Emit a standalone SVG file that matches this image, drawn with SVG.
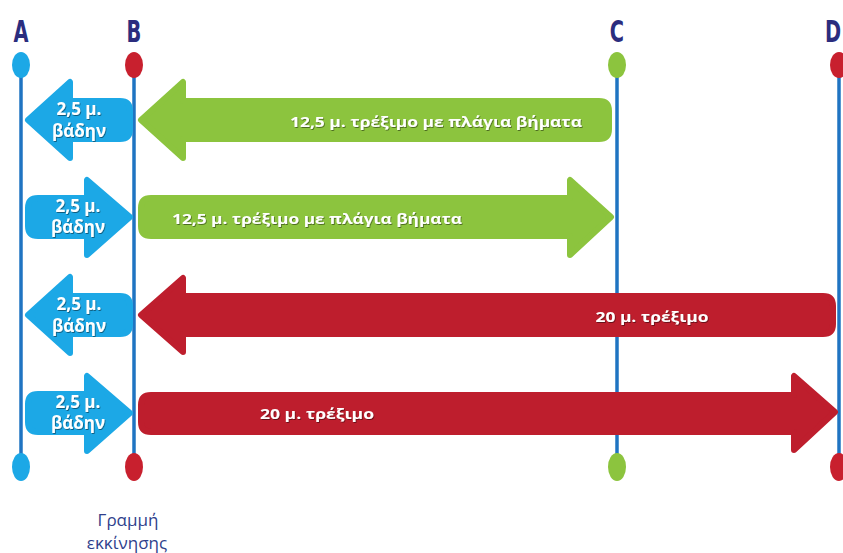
<svg xmlns="http://www.w3.org/2000/svg" width="843" height="553" viewBox="0 0 843 553">
<defs>
<style>
.ln{stroke:#1f74c2;stroke-width:3.5;fill:none}
.arr{stroke-width:6;stroke-linejoin:round}
.bl{fill:#1ca8e6;stroke:#1ca8e6}
.gr{fill:#8cc43e;stroke:#8cc43e}
.rd{fill:#be1e2d;stroke:#be1e2d}
.t{font-family:"Open Sans","Noto Sans",sans-serif;font-weight:bold;fill:#fff;filter:url(#sh)}
.bt{font-size:17px;text-anchor:middle}
.mt{font-size:15px;text-anchor:middle}
.lt{font-family:"DejaVu Sans Condensed","DejaVu Sans",sans-serif;font-weight:bold;font-size:30px;fill:#2b2d7e;text-anchor:middle}
.cap{font-family:"Open Sans","Noto Sans",sans-serif;font-size:17px;fill:#2f3f8c;text-anchor:middle}
</style>
<filter id="sh" x="-10%" y="-30%" width="120%" height="160%">
<feDropShadow dx="0.8" dy="1" stdDeviation="0.7" flood-color="#000" flood-opacity="0.45"/>
</filter>
</defs>
<rect width="843" height="553" fill="#fff"/>

<g id="connectors">
<line class="ln" x1="21" y1="65" x2="21" y2="467"/>
<line class="ln" x1="134" y1="65" x2="134" y2="467"/>
<line class="ln" x1="617" y1="65" x2="617" y2="467"/>
<line class="ln" x1="839" y1="65" x2="839" y2="467"/>
</g>

<g id="markerA">
<text class="lt" transform="translate(21,42) scale(0.72,1)">A</text>
<ellipse cx="21" cy="65" rx="9" ry="13" fill="#1ca8e6"/>
<ellipse cx="21" cy="467" rx="9" ry="14" fill="#1ca8e6"/>
</g>
<g id="markerB">
<text class="lt" transform="translate(134,42) scale(0.72,1)">B</text>
<ellipse cx="134" cy="65" rx="9" ry="13" fill="#c8202e"/>
<ellipse cx="134" cy="467" rx="9" ry="14" fill="#c8202e"/>
</g>
<g id="markerC">
<text class="lt" transform="translate(617,42) scale(0.72,1)">C</text>
<ellipse cx="617" cy="65" rx="9" ry="13" fill="#8cc43e"/>
<ellipse cx="617" cy="467" rx="9" ry="14" fill="#8cc43e"/>
</g>
<g id="markerD">
<text class="lt" transform="translate(833,42) scale(0.72,1)">D</text>
<ellipse cx="839" cy="65" rx="9" ry="13" fill="#c8202e"/>
<ellipse cx="839" cy="467" rx="9" ry="14" fill="#c8202e"/>
</g>

<!-- Row 1 -->
<g id="walk1">
<path class="arr bl" d="M28,120 L70,82 L70,101 L120,101 Q130,101 130,111 L130,129 Q130,139 120,139 L70,139 L70,158 Z"/>
<text class="t bt" x="79" y="115">2,5 μ.</text>
<text class="t bt" x="79" y="137">βάδην</text>
</g>
<g id="run1">
<path class="arr gr" d="M141,120 L183,82 L183,101 L599,101 Q609,101 609,111 L609,129 Q609,139 599,139 L183,139 L183,158 Z"/>
<text class="t mt" x="436" y="127" textLength="292" lengthAdjust="spacingAndGlyphs">12,5 μ. τρέξιμο με πλάγια βήματα</text>
</g>

<!-- Row 2 -->
<g id="walk2">
<path class="arr bl" d="M130,217 L87,180 L87,198 L38,198 Q28,198 28,208 L28,226 Q28,236 38,236 L87,236 L87,255 Z"/>
<text class="t bt" x="78" y="212">2,5 μ.</text>
<text class="t bt" x="78" y="233">βάδην</text>
</g>
<g id="run2">
<path class="arr gr" d="M611,217 L570,180 L570,198 L151,198 Q141,198 141,208 L141,226 Q141,236 151,236 L570,236 L570,255 Z"/>
<text class="t mt" x="317" y="224" textLength="290" lengthAdjust="spacingAndGlyphs">12,5 μ. τρέξιμο με πλάγια βήματα</text>
</g>

<!-- Row 3 -->
<g id="walk3">
<path class="arr bl" d="M28,315 L70,277 L70,296 L120,296 Q130,296 130,306 L130,324 Q130,334 120,334 L70,334 L70,353 Z"/>
<text class="t bt" x="79" y="310">2,5 μ.</text>
<text class="t bt" x="79" y="332">βάδην</text>
</g>
<g id="run3">
<path class="arr rd" d="M141,315 L183,278 L183,296 L823,296 Q833,296 833,306 L833,324 Q833,334 823,334 L183,334 L183,352 Z"/>
<text class="t mt" x="652" y="322" textLength="113" lengthAdjust="spacingAndGlyphs">20 μ. τρέξιμο</text>
</g>

<!-- Row 4 -->
<g id="walk4">
<path class="arr bl" d="M130,413 L87,376 L87,394 L38,394 Q28,394 28,404 L28,422 Q28,432 38,432 L87,432 L87,451 Z"/>
<text class="t bt" x="78" y="408">2,5 μ.</text>
<text class="t bt" x="78" y="429">βάδην</text>
</g>
<g id="run4">
<path class="arr rd" d="M835,412 L794,376 L794,395 L151,395 Q141,395 141,405 L141,422 Q141,432 151,432 L794,432 L794,450 Z"/>
<text class="t mt" x="317" y="419" textLength="114" lengthAdjust="spacingAndGlyphs">20 μ. τρέξιμο</text>
</g>

<g id="startLabel">
<text class="cap" x="128" y="526">Γραμμή</text>
<text class="cap" x="127" y="549">εκκίνησης</text>
</g>
</svg>
